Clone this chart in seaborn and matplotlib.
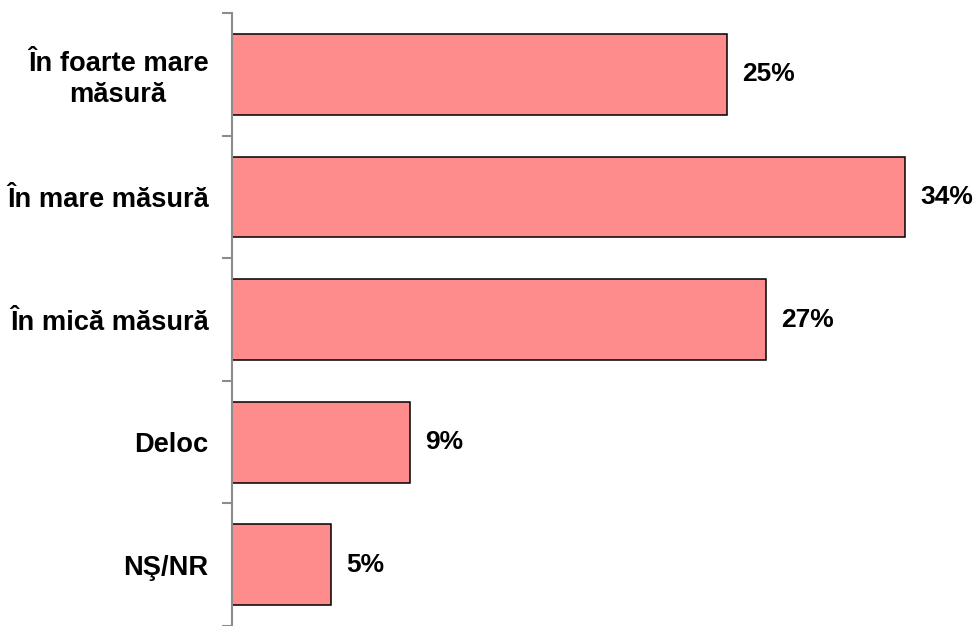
import matplotlib
matplotlib.use("Agg")
import matplotlib.pyplot as plt
import seaborn as sns
import pandas as pd

categories = ["În foarte mare\nmăsură", "În mare măsură", "În mică măsură", "Deloc", "NŞ/NR"]
values = [25, 34, 27, 9, 5]
value_labels = ["25%", "34%", "27%", "9%", "5%"]

df = pd.DataFrame({"cat": categories, "val": values})

sns.set_style("white")
plt.rcParams["font.family"] = ["Liberation Sans", "DejaVu Sans"]

fig = plt.figure(figsize=(9.76, 6.26), dpi=100)
ax = fig.add_axes([0.2377, 0.0, 0.7623, 0.979])

sns.barplot(data=df, y="cat", x="val", orient="h", color="#FF8C8C",
            saturation=1, edgecolor="black", linewidth=1.1, width=0.66, ax=ax)

ax.set_xlim(0, 37.6)
ax.set_ylim(4.5, -0.5)
ax.set_xlabel("")
ax.set_ylabel("")
ax.set_xticks([])

for s in ["top", "right", "bottom"]:
    ax.spines[s].set_visible(False)
ax.spines["left"].set_color("#8c8c8c")
ax.spines["left"].set_linewidth(1.5)

# boundary ticks (major) and category labels (minor)
ax.set_yticks([i - 0.5 for i in range(len(categories) + 1)])
ax.set_yticklabels([])
ax.tick_params(axis="y", which="major", left=True, length=7, width=1.5,
               color="#8c8c8c", direction="out")
ax.set_yticks(range(len(categories)), minor=True)
ax.set_yticklabels(categories, minor=True, fontsize=19.6, fontweight="bold", color="black")
ax.tick_params(axis="y", which="minor", left=True, length=0, pad=17)
for lbl in ax.get_yticklabels(minor=True):
    lbl.set_multialignment("center")
    lbl.set_linespacing(1.25)

for i, (v, t) in enumerate(zip(values, value_labels)):
    ax.annotate(t, xy=(v, i), xytext=(11, 0), textcoords="offset points",
                va="center", ha="left", fontsize=19, fontweight="bold", color="black")

fig.savefig("out.png", dpi=100)
